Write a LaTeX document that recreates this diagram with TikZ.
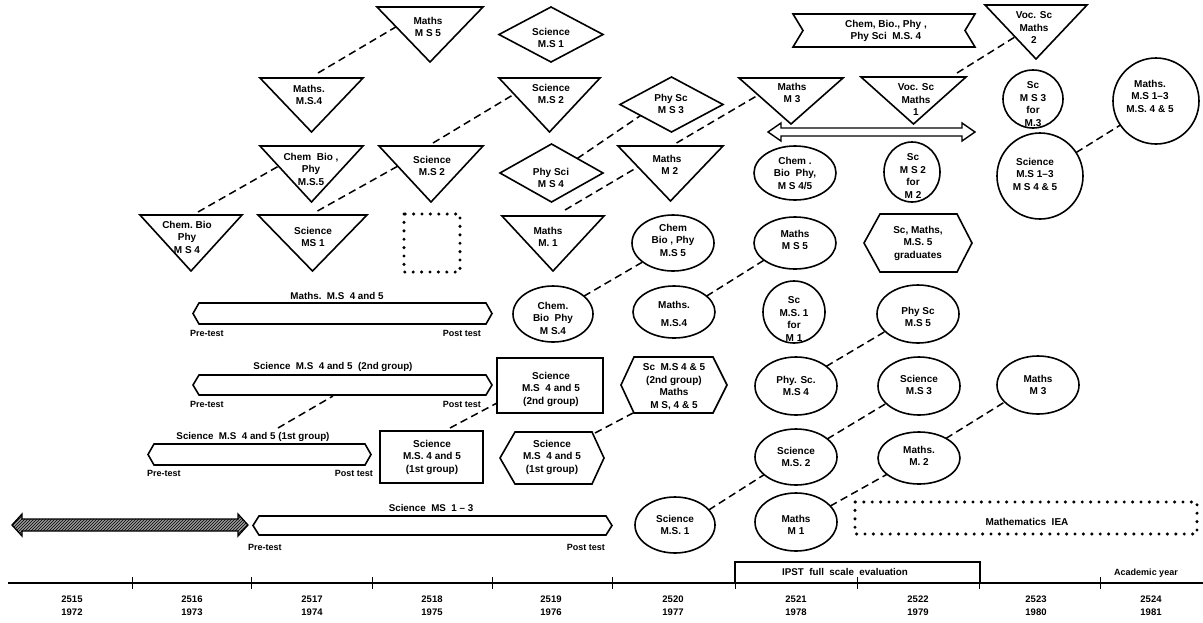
\documentclass[tikz,border=0pt]{standalone}
\usepackage{fontspec}
\setmainfont{Liberation Sans}
\usetikzlibrary{shapes.geometric,calc,fit,patterns}
\newcommand\drawtri[1]{\draw[shp] (#1.north west) -- (#1.north east) -- (#1.south) -- cycle;}
\newcommand\drawdia[1]{\draw[shp] (#1.north) -- (#1.east) -- (#1.south) -- (#1.west) -- cycle;}
\newcommand\drawhex[3]{\draw[shp] (#1.west) -- ([xshift=#2pt]#1.north west) -- ([xshift=-#3pt]#1.north east) -- (#1.east) -- ([xshift=-#3pt]#1.south east) -- ([xshift=#2pt]#1.south west) -- cycle;}
\begin{document}
\begin{tikzpicture}[x=1pt,y=-1pt,
  shp/.style={line width=1.6pt, line join=miter},
  fr/.style={inner sep=0pt, outer sep=0pt},
  el/.style={ellipse, draw, line width=1.6pt, inner sep=0pt, outer sep=0pt},
  txt/.style={align=center, font=\bfseries\fontsize{10}{12.5}\selectfont, inner sep=0pt},
  lab/.style={font=\bfseries\fontsize{9.8}{11}\selectfont, inner sep=0pt},
  sml/.style={font=\bfseries\fontsize{9}{10}\selectfont, inner sep=0pt},
  yr/.style={align=center, font=\bfseries\fontsize{9.5}{13}\selectfont, inner sep=0pt},
  dsh/.style={line width=1.5pt, dash pattern=on 7.5pt off 4.5pt},
  dots/.style={line width=3.4pt, line cap=round, dash pattern=on 0pt off 8.4pt}]
\useasboundingbox (0,0) rectangle (1203,622);

% ---------- triangles ----------
\node[fr, fit={(377,7) (483,62)}] (A1) {}; \drawtri{A1}
\node[txt] (A1t) at (428,27) {Maths\\M S 5};
\node[fr, fit={(985,5) (1087,59)}] (A3) {}; \drawtri{A3}
\node[txt] (A3t) at (1034,28) {Voc. Sc\\Maths\\2};
\node[fr, fit={(260,78) (363,132)}] (B1) {}; \drawtri{B1}
\node[txt] (B1t) at (309,95) {Maths.\\M.S.4};
\node[fr, fit={(499,78) (600,132)}] (B2) {}; \drawtri{B2}
\node[txt] (B2t) at (551,94) {Science\\M.S 2};
\node[fr, fit={(739,78) (843,124)}] (B4) {}; \drawtri{B4}
\node[txt] (B4t) at (792,93) {Maths\\M 3};
\node[fr, fit={(861,77) (966,124)}] (B5) {}; \drawtri{B5}
\node[txt] (B5t) at (916,100) {Voc. Sc\\Maths\\1};
\node[fr, fit={(260,146) (363,202)}] (C1) {}; \drawtri{C1}
\node[txt] (C1t) at (311,169) {Chem\ \ Bio ,\\Phy\\M.S.5};
\node[fr, fit={(379,146) (483,202)}] (C2) {}; \drawtri{C2}
\node[txt] (C2t) at (432,166) {Science\\M.S 2};
\node[fr, fit={(618,146) (723,201)}] (C4) {}; \drawtri{C4}
\node[txt] (C4t) at (667,165) {Maths\\\ \ M 2};
\node[fr, fit={(140,215) (242,271)}] (D1) {}; \drawtri{D1}
\node[txt] (D1t) at (187,237) {Chem.\ Bio\\Phy\\M S 4};
\node[fr, fit={(258,215) (367,271)}] (D2) {}; \drawtri{D2}
\node[txt] (D2t) at (313,237) {Science\\MS 1};
\node[fr, fit={(502,216) (604,271)}] (D4) {}; \drawtri{D4}
\node[txt] (D4t) at (548,237) {Maths\\M. 1};

% ---------- diamonds ----------
\node[fr, fit={(499,7) (603,62)}] (A2) {}; \drawdia{A2}
\node[txt] (A2t) at (551,38) {Science\\M.S 1};
\node[fr, fit={(620,77) (723,132)}] (B3) {}; \drawdia{B3}
\node[txt] (B3t) at (671,104) {Phy Sc\\M S 3};
\node[fr, fit={(500,144) (603,202)}] (C3) {}; \drawdia{C3}
\node[txt] (C3t) at (551,178) {Phy Sci\\M S 4};

% ---------- ribbon ----------
\node[fr, fit={(793,14) (975,47)}] (A4) {};
\draw[shp] (A4.north west) -- (A4.north east) -- ([xshift=-10pt]A4.east) -- (A4.south east) -- (A4.south west) -- ([xshift=10pt]A4.west) -- cycle;
\node[txt] (A4t) at (886,31) {Chem, Bio., Phy ,\\Phy Sci\ \ M.S. 4};

% ---------- outline double arrow ----------
\draw[line width=1.4pt, line join=miter] (768,132) -- (781,123) -- (781,128) -- (962,128) -- (962,123) -- (975,132) -- (962,141) -- (962,136) -- (781,136) -- (781,141) -- cycle;

% ---------- circles / ellipses ----------
\node[el, minimum width=60pt, minimum height=58pt] (B6) at (1033,99) {};
\node[txt] (B6t) at (1033,104) {Sc\\M S 3\\for\\M.3};
\node[el, minimum width=86pt, minimum height=86pt] (B7) at (1156,101) {};
\node[txt] (B7t) at (1150,96) {Maths.\\M.S 1–3\\M.S. 4 \& 5};
\node[el, minimum width=86pt, minimum height=86pt] (C7) at (1040,176) {};
\node[txt] (C7t) at (1035,174) {Science\\M.S 1–3\\M S 4 \& 5};
\node[el, minimum width=82pt, minimum height=54pt] (C5) at (795,173) {};
\node[txt] (C5t) at (795,173) {Chem .\\Bio\ \ Phy,\\M S 4/5};
\node[el, minimum width=56pt, minimum height=60pt] (C6) at (912,172) {};
\node[txt] (C6t) at (913,176) {Sc\\M S 2\\for\\M 2};
\node[el, minimum width=82pt, minimum height=56pt] (D5) at (673,243) {};
\node[txt] (D5t) at (673,240) {Chem\\Bio , Phy\\M.S 5};
\node[el, minimum width=82pt, minimum height=52pt] (D6) at (795,243) {};
\node[txt] (D6t) at (795,240) {Maths\\M S 5};
\node[el, minimum width=80pt, minimum height=56pt] (E1) at (553,314) {};
\node[txt] (E1t) at (553,318) {Chem.\\Bio\ \ Phy\\M S.4};
\node[el, minimum width=82pt, minimum height=52pt] (E2) at (674,312) {};
\node[txt] (E2t) at (674,314) {Maths.\\[6pt]M.S.4};
\node[el, minimum width=62pt, minimum height=62pt] (E3) at (794,312) {};
\node[txt] (E3t) at (794,319) {Sc\\M.S. 1\\for\\M 1};
\node[el, minimum width=82pt, minimum height=58pt] (E4) at (918,314) {};
\node[txt] (E4t) at (918,317) {Phy Sc\\M.S 5};
\node[el, minimum width=82pt, minimum height=58pt] (F3) at (796,386) {};
\node[txt] (F3t) at (796,386) {Phy. Sc.\\M.S 4};
\node[el, minimum width=82pt, minimum height=58pt] (F4) at (919,386) {};
\node[txt] (F4t) at (919,385) {Science\\M.S 3};
\node[el, minimum width=82pt, minimum height=58pt] (F5) at (1038,385) {};
\node[txt] (F5t) at (1038,385) {Maths\\M 3};
\node[el, minimum width=82pt, minimum height=56pt] (G3) at (796,457) {};
\node[txt] (G3t) at (796,457) {Science\\M.S. 2};
\node[el, minimum width=82pt, minimum height=52pt] (G4) at (919,458) {};
\node[txt] (G4t) at (919,456) {Maths.\\M. 2};
\node[el, minimum width=80pt, minimum height=56pt] (H1) at (675,525) {};
\node[txt] (H1t) at (675,525) {Science\\M.S. 1};
\node[el, minimum width=82pt, minimum height=58pt] (H2) at (796,522) {};
\node[txt] (H2t) at (796,525) {Maths\\M 1};

% ---------- hexagons ----------
\node[fr, fit={(864,214) (972,272)}] (D7) {}; \drawhex{D7}{16}{15}
\node[txt] (D7t) at (918,243) {Sc, Maths,\\M.S. 5\\graduates};
\node[fr, fit={(621,357) (727,413)}] (F2) {}; \drawhex{F2}{13}{14}
\node[txt] (F2t) at (674,387) {Sc\ \ M.S 4 \& 5\\(2nd group)\\Maths\\M S, 4 \& 5};
\node[fr, fit={(500,432) (604,484)}] (G2) {}; \drawhex{G2}{15}{12}
\node[txt] (G2t) at (552,457) {Science\\M.S\ \ 4 and 5\\(1st group)};

% ---------- rectangles ----------
\node[fr, draw, line width=1.6pt, fit={(497,358) (603,413)}] (F1) {};
\node[txt] (F1t) at (551,389) {Science\\M.S\ \ 4 and 5\\(2nd group)};
\node[fr, draw, line width=1.6pt, fit={(380,431) (483,483)}] (G1) {};
\node[txt] (G1t) at (432,457) {Science\\M.S. 4 and 5\\(1st group)};

% ---------- dotted boxes ----------
\node[fr, fit={(404,214) (460,272)}] (D3) {};
\draw[dots] (D3.north west) rectangle (D3.south east);
\node[fr, fit={(855,502) (1197,534)}] (H3) {};
\draw[dots] (H3.north west) rectangle (H3.south east);
\node[txt] (H3t) at (1027,522) {Mathematics\ \ IEA};

% ---------- bars ----------
\node[fr, fit={(193,303) (492,324)}] (Bar1) {}; \drawhex{Bar1}{6}{6}
\node[lab] (L1) at (337,296) {Maths.\ \ M.S\ \ 4 and 5};
\node[sml, anchor=west] (P1) at (190,333) {Pre-test};
\node[sml, anchor=east] (Q1) at (481,333) {Post test};
\node[fr, fit={(193,375) (492,395)}] (Bar2) {}; \drawhex{Bar2}{6}{6}
\node[lab] (L2) at (333,367) {Science\ \ M.S\ \ 4 and 5\ \ (2nd group)};
\node[sml, anchor=west] (P2) at (190,404) {Pre-test};
\node[sml, anchor=east] (Q2) at (481,404) {Post test};
\node[fr, fit={(148,444) (371,465)}] (Bar3) {}; \drawhex{Bar3}{6}{6}
\node[lab] (L3) at (253,437) {Science\ \ M.S\ \ 4 and 5 (1st group)};
\node[sml, anchor=west] (P3) at (147,473) {Pre-test};
\node[sml, anchor=east] (Q3) at (373,473) {Post test};
\node[fr, fit={(253,516) (612,535)}] (Bar4) {}; \drawhex{Bar4}{6}{6}
\node[lab] (L4) at (431,508) {Science\ \ MS\ \ 1\ –\ 3};
\node[sml, anchor=west] (P4) at (248,547) {Pre-test};
\node[sml, anchor=east] (Q4) at (605,547) {Post test};

% ---------- hatched double arrow ----------
\draw[line width=1.3pt, line join=miter, preaction={fill=black!40}, pattern=north east lines] (12,525) -- (22,514) -- (22,519) -- (238,519) -- (238,514) -- (248,525) -- (238,536) -- (238,531) -- (22,531) -- (22,536) -- cycle;

% ---------- dashed connectors ----------
\draw[dsh] ($(B1.north)+(6.5,-5)$) -- ($(A1.north west)!0.36!(A1.south)$);
\draw[dsh] ($(D1.north)+(7,-3)$) -- ($(C1.north west)!0.36!(C1.south)$);
\draw[dsh] ($(D2.north)+(5,-4)$) -- ($(C2.north west)!0.36!(C2.south)$);
\draw[dsh] ($(C2.north)+(2,-3)$) -- ($(B2.north west)!0.3!(B2.south)$);
\draw[dsh] ($(D4.north)+(12,-6)$) -- ($(C4.north west)!0.38!(C4.south)$);
\draw[dsh] ($(C3.north)!0.5!(C3.east)$) -- ($(B3.west)!0.4!(B3.south)$);
\draw[dsh] ($(C4.north)+(6,-3)$) -- ($(B4.north west)!0.37!(B4.south)$);
\draw[dsh] ($(B5.north east)+(-9,-4)$) -- ($(A3.north west)!0.59!(A3.south)$);
\draw[dsh] (C7.33) -- (B7.214);
\draw[dsh] (E1.30) -- (D5.212);
\draw[dsh] (E2.26) -- (D6.209);
\draw[dsh] (F3.33) -- (E4.208);
\draw[dsh] (G3.30) -- (F4.208);
\draw[dsh] (H2.25) -- (G4.207);
\draw[dsh] (G4.36) -- (F5.207);
\draw[dsh] (H1.24) -- (G3.209);
\draw[dsh] ($(G2.north east)+(-9,1)$) -- ($(F2.south west)+(12,0)$);
\draw[dsh] ($(G1.north)+(18.5,-3)$) -- ($(F1.south west)+(0,-10)$);
\draw[dsh] ($(Bar3.north)+(18.5,-16)$) -- ($(Bar2.south)+(-9.5,1)$);

% ---------- time axis ----------
\draw[line width=1.6pt] (8,583) -- (1203,583);
\foreach \t in {132,251,372,492,612,735,857,979,1100}
  \draw[line width=1pt] (\t,577) -- (\t,589);
\node[fr, draw, line width=1.4pt, fit={(735,562) (980,583)}] (IPST) {};
\node[lab] (IPSTt) at (845,572) {IPST\ \ full\ \ scale\ \ evaluation};
\node[sml] (acad) at (1146,573) {Academic year};
\node[yr] (y15) at (72,606) {2515\\1972};
\node[yr] (y16) at (192,606) {2516\\1973};
\node[yr] (y17) at (312,606) {2517\\1974};
\node[yr] (y18) at (432,606) {2518\\1975};
\node[yr] (y19) at (551,606) {2519\\1976};
\node[yr] (y20) at (673,606) {2520\\1977};
\node[yr] (y21) at (796,606) {2521\\1978};
\node[yr] (y22) at (918,606) {2522\\1979};
\node[yr] (y23) at (1036,606) {2523\\1980};
\node[yr] (y24) at (1151,606) {2524\\1981};
\end{tikzpicture}
\end{document}
